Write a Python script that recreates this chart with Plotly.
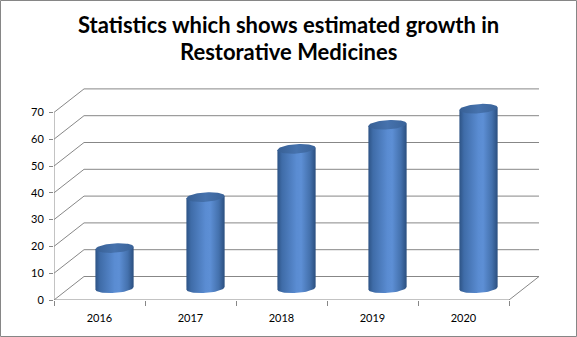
import numpy as np
import plotly.graph_objects as go

# ---- data ----
years = ['2016', '2017', '2018', '2019', '2020']
values = [15, 34, 52, 61, 67]
y_ticks = [0, 10, 20, 30, 40, 50, 60, 70]
title_lines = ["Statistics which shows estimated growth in", "Restorative Medicines"]

# ---- style / layout constants ----
W, H = 577, 337
ML, MR, MT, MB = 54, 29, 85, 37
DX, DY = 0.33, 8.77          # depth offset (x in category units, y in value units)
RX, RY, TILT = 0.21, 1.75, 0.45
GRID = '#878787'
FONT = 'Lato'

fig = go.Figure()

n = len(years)
xl, xr = -0.5, n - 0.5
ymax = max(y_ticks)

def line(xs, ys):
    fig.add_trace(go.Scatter(x=xs, y=ys, mode='lines', line=dict(color=GRID, width=1),
                             hoverinfo='skip', showlegend=False, cliponaxis=False))

# walls & floor
for v in y_ticks:
    line([xl, xl + DX, xr + DX], [v, v + DY, v + DY])
line([xl, xl], [0, ymax])
line([xl, xr, xr + DX], [0, 0, DY])

# cylinders
t_front = np.linspace(np.pi, 2 * np.pi, 40)
t_full = np.linspace(0, 2 * np.pi, 80)
body_scale = [[0, '#2d5385'], [0.12, '#3f6ca8'], [0.5, '#5a8cd2'], [0.62, '#5d8fd5'],
              [0.85, '#4471ad'], [1, '#2b4f7f']]
top_scale = [[0, '#375f94'], [0.5, '#4672ad'], [1, '#3a6399']]
for i, v in enumerate(values):
    cx = i + DX / 2
    y0 = DY / 2
    y1 = DY / 2 + v
    bx = cx + RX * np.cos(t_front)
    by = y0 + RY * np.sin(t_front) + TILT * np.cos(t_front)
    xs = list(bx) + [cx + RX, cx - RX, bx[0]]
    ys = list(by) + [y1 + TILT, y1 - TILT, by[0]]
    fig.add_trace(go.Scatter(x=xs, y=ys, mode='lines', fill='toself', line=dict(width=0),
                             fillgradient=dict(type='horizontal', colorscale=body_scale),
                             hoverinfo='skip', showlegend=False, cliponaxis=False))
    tx = cx + RX * np.cos(t_full)
    ty = y1 + RY * np.sin(t_full) + TILT * np.cos(t_full)
    fig.add_trace(go.Scatter(x=tx, y=ty, mode='lines', fill='toself', line=dict(width=0),
                             fillgradient=dict(type='horizontal', colorscale=top_scale),
                             hoverinfo='skip', showlegend=False, cliponaxis=False))

pw = W - ML - MR
ph = H - MT - MB
xmax = xl + pw / 91.0
ytop = ph / 2.68

annotations = []
for k, txt in enumerate(title_lines):
    base = 35 + 28 * k  # baseline pixel from top
    annotations.append(dict(text='<b>' + txt + '</b>', xref='paper', yref='paper',
                            x=(W / 2 - ML) / pw, xanchor='center',
                            y=1 + (MT - (base - 11)) / ph, yanchor='middle',
                            showarrow=False,
                            font=dict(family=FONT, size=22, color='black')))

fig.update_layout(
    width=W, height=H,
    margin=dict(l=ML, r=MR, t=MT, b=MB),
    paper_bgcolor='white', plot_bgcolor='white',
    annotations=annotations,
    xaxis=dict(range=[xl, xmax], showgrid=False, zeroline=False, showline=False,
               tickvals=list(range(n)), ticktext=years, ticks='',
               ticklabelstandoff=10,
               tickfont=dict(family=FONT, size=11, color='black'),
               minor=dict(tick0=-0.5, dtick=1, ticks='outside', ticklen=5, tickcolor=GRID),
               fixedrange=True),
    yaxis=dict(range=[0, ytop], showgrid=False, zeroline=False, showline=False,
               tickvals=y_ticks, ticks='outside', ticklen=4, tickcolor=GRID,
               ticklabelstandoff=3,
               tickfont=dict(family=FONT, size=11, color='black'), fixedrange=True),
    shapes=[dict(type='rect', xref='paper', yref='paper',
                 x0=(0.5 - ML) / pw, x1=(W - 0.5 - ML) / pw,
                 y0=-(MB - 0.5) / ph, y1=1 + (MT - 0.5) / ph,
                 line=dict(color='#868686', width=1))],
)

fig.write_html("out.html")
